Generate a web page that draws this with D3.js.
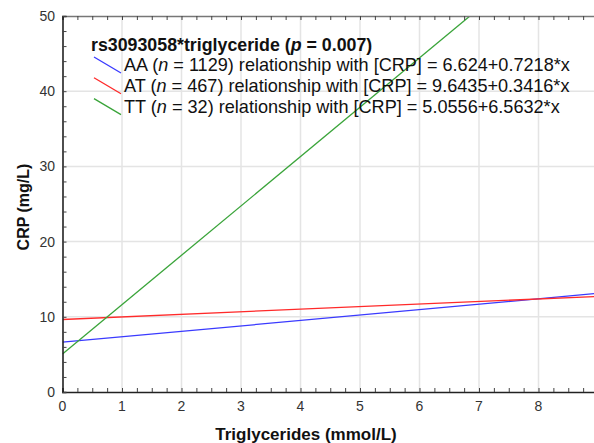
<!DOCTYPE html>
<html>
<head>
<meta charset="utf-8">
<script src="https://cdn.jsdelivr.net/npm/d3@7"></script>
<style>
html,body{margin:0;padding:0;background:#fff;}
svg{display:block;font-family:"Liberation Sans",Arial,sans-serif;}
</style>
</head>
<body>
<svg id="chart" width="594" height="443"></svg>
<script>
// ---- data ----
const groups = ["AA", "AT", "TT"];
const groupN = [1129, 467, 32];
const intercepts = [6.624, 9.6435, 5.0556];
const slopes = [0.7218, 0.3416, 6.5632];
const eqLabels = ["6.624+0.7218*x", "9.6435+0.3416*x", "5.0556+6.5632*x"];
const colors = ["#3a3aff", "#ff2a2a", "#3aa43a"];
const xDomain = [0, 9];
const yDomain = [0, 50];
const xTicks = [0, 1, 2, 3, 4, 5, 6, 7, 8];
const yTicks = [0, 10, 20, 30, 40, 50];
const xMinor = d3.range(0, 9.01, 0.25);
const yMinor = d3.range(0, 50.01, 2);
const titleText = "rs3093058*triglyceride";
const pValue = "0.007";

(function () {
// ---- layout ----
const svg = d3.select("#chart");
const pLeft = 62.5, pTop = 16, pBottom = 392;
const x = d3.scaleLinear().domain(xDomain).range([pLeft, pLeft + 9 * 59.5]);
const y = d3.scaleLinear().domain(yDomain).range([pBottom, pTop]);
const pRight = x(xDomain[1]);

svg.append("defs").append("clipPath").attr("id", "clip")
  .append("rect").attr("x", pLeft).attr("y", pTop).attr("width", pRight - pLeft).attr("height", pBottom - pTop);

// grid
const grid = svg.append("g");
grid.selectAll(".gx").data(xTicks.filter(d => d > 0)).enter().append("line")
  .attr("x1", d => x(d)).attr("x2", d => x(d)).attr("y1", pTop).attr("y2", pBottom)
  .attr("stroke", "#e4e4e4").attr("stroke-width", 1.5);
grid.selectAll(".gy").data(yTicks.filter(d => d > 0 && d < 50)).enter().append("line")
  .attr("y1", d => y(d)).attr("y2", d => y(d)).attr("x1", pLeft).attr("x2", pRight)
  .attr("stroke", "#e4e4e4").attr("stroke-width", 1.5);

// regression lines
const lines = svg.append("g").attr("clip-path", "url(#clip)");
groups.forEach((g, i) => {
  const pts = xDomain.map(xv => [xv, intercepts[i] + slopes[i] * xv]);
  lines.append("path")
    .attr("d", d3.line().x(d => x(d[0])).y(d => y(d[1]))(pts))
    .attr("fill", "none").attr("stroke", colors[i]).attr("stroke-width", 1.3);
});

// axes with inward ticks
const axB = d3.axisBottom(x).tickValues(xMinor).tickSize(-4).tickFormat("");
const axT = d3.axisTop(x).tickValues(xMinor).tickSize(-4).tickFormat("");
const axL = d3.axisLeft(y).tickValues(yMinor).tickSize(-4).tickFormat("");

const gT = svg.append("g").attr("transform", `translate(0,${pTop})`).call(axT);
gT.select(".domain").attr("stroke", "#777").attr("stroke-width", 1.5);
gT.selectAll(".tick line").attr("stroke", "#444");
const gB = svg.append("g").attr("transform", `translate(0,${pBottom})`).call(axB);
gB.select(".domain").attr("stroke", "#222").attr("stroke-width", 1.6);
gB.selectAll(".tick line").attr("stroke", "#444");
const gL = svg.append("g").attr("transform", `translate(${pLeft},0)`).call(axL);
gL.select(".domain").attr("stroke", "#222").attr("stroke-width", 1.6);
gL.selectAll(".tick line").attr("stroke", "#444");

// tick labels
svg.append("g").selectAll("text").data(xTicks).enter().append("text")
  .attr("x", d => x(d)).attr("y", 411).attr("text-anchor", "middle")
  .attr("font-size", 14).attr("fill", "#333").text(d => d);
svg.append("g").selectAll("text").data(yTicks).enter().append("text")
  .attr("x", 55).attr("y", d => y(d) + 5).attr("text-anchor", "end")
  .attr("font-size", 14).attr("fill", "#333").text(d => d);

// axis titles
svg.append("text").attr("x", 306).attr("y", 440).attr("text-anchor", "middle")
  .attr("font-size", 17).attr("font-weight", "bold").attr("fill", "#111")
  .text("Triglycerides (mmol/L)");
svg.append("text").attr("transform", "translate(29,207) rotate(-90)").attr("text-anchor", "middle")
  .attr("font-size", 16).attr("font-weight", "bold").attr("fill", "#111")
  .text("CRP (mg/L)");

// legend
const lg = svg.append("g");
const t = lg.append("text").attr("x", 91).attr("y", 51).attr("font-size", 17.8)
  .attr("font-weight", "bold").attr("fill", "#111");
t.append("tspan").text(titleText + " (");
t.append("tspan").attr("font-style", "italic").text("p");
t.append("tspan").text(" = " + pValue + ")");

groups.forEach((g, i) => {
  const by = 71 + i * 20.8;
  lg.append("line").attr("x1", 94).attr("y1", by - 14).attr("x2", 121).attr("y2", by + 2)
    .attr("stroke", colors[i]).attr("stroke-width", 1.3);
  const tx = lg.append("text").attr("x", 124).attr("y", by).attr("font-size", 18.1).attr("fill", "#111");
  tx.append("tspan").text(g + " (");
  tx.append("tspan").attr("font-style", "italic").text("n");
  tx.append("tspan").text(" = " + groupN[i] + ") relationship with [CRP] = " + eqLabels[i]);
});
})();
</script>
</body>
</html>
